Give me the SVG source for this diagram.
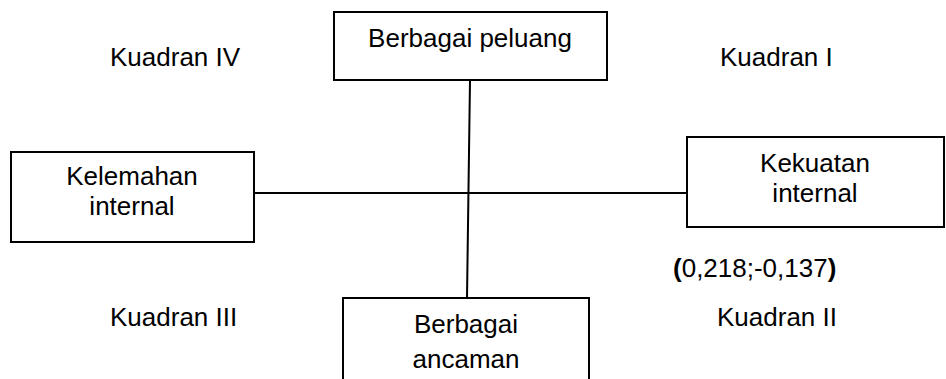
<svg xmlns="http://www.w3.org/2000/svg" width="946" height="379" viewBox="0 0 946 379">
<style>
.box{fill:#fff;stroke:#000;stroke-width:2}
.ln{stroke:#000;stroke-width:2;fill:none}
text{font-family:"Liberation Sans",Arial,sans-serif;font-size:26px;fill:#000}
.c{text-anchor:middle}
</style>
<rect width="946" height="379" fill="#fff"/>
<g id="connectors">
<line class="ln" x1="470" y1="80" x2="467" y2="298"/>
<line class="ln" x1="254" y1="193" x2="687" y2="193"/>
</g>
<g id="top">
<rect class="box" x="334" y="12" width="273" height="68"/>
<text class="c" x="470" y="47">Berbagai peluang</text>
</g>
<g id="left">
<rect class="box" x="11" y="152" width="243" height="90"/>
<text class="c" x="132" y="185">Kelemahan</text>
<text class="c" x="132" y="215">internal</text>
</g>
<g id="right">
<rect class="box" x="687" y="137" width="257" height="90"/>
<text class="c" x="815" y="172">Kekuatan</text>
<text class="c" x="815" y="202">internal</text>
</g>
<g id="bottom">
<rect class="box" x="343" y="298" width="246" height="100"/>
<text class="c" x="466" y="333">Berbagai</text>
<text class="c" x="466" y="368">ancaman</text>
</g>
<g id="labels">
<text x="110" y="66">Kuadran IV</text>
<text x="720" y="66">Kuadran I</text>
<text x="110" y="326">Kuadran III</text>
<text x="717" y="326">Kuadran II</text>
<text x="673" y="277" font-size="27"><tspan font-weight="bold">(</tspan>0,218;-0,137<tspan font-weight="bold">)</tspan></text>
</g>
</svg>
